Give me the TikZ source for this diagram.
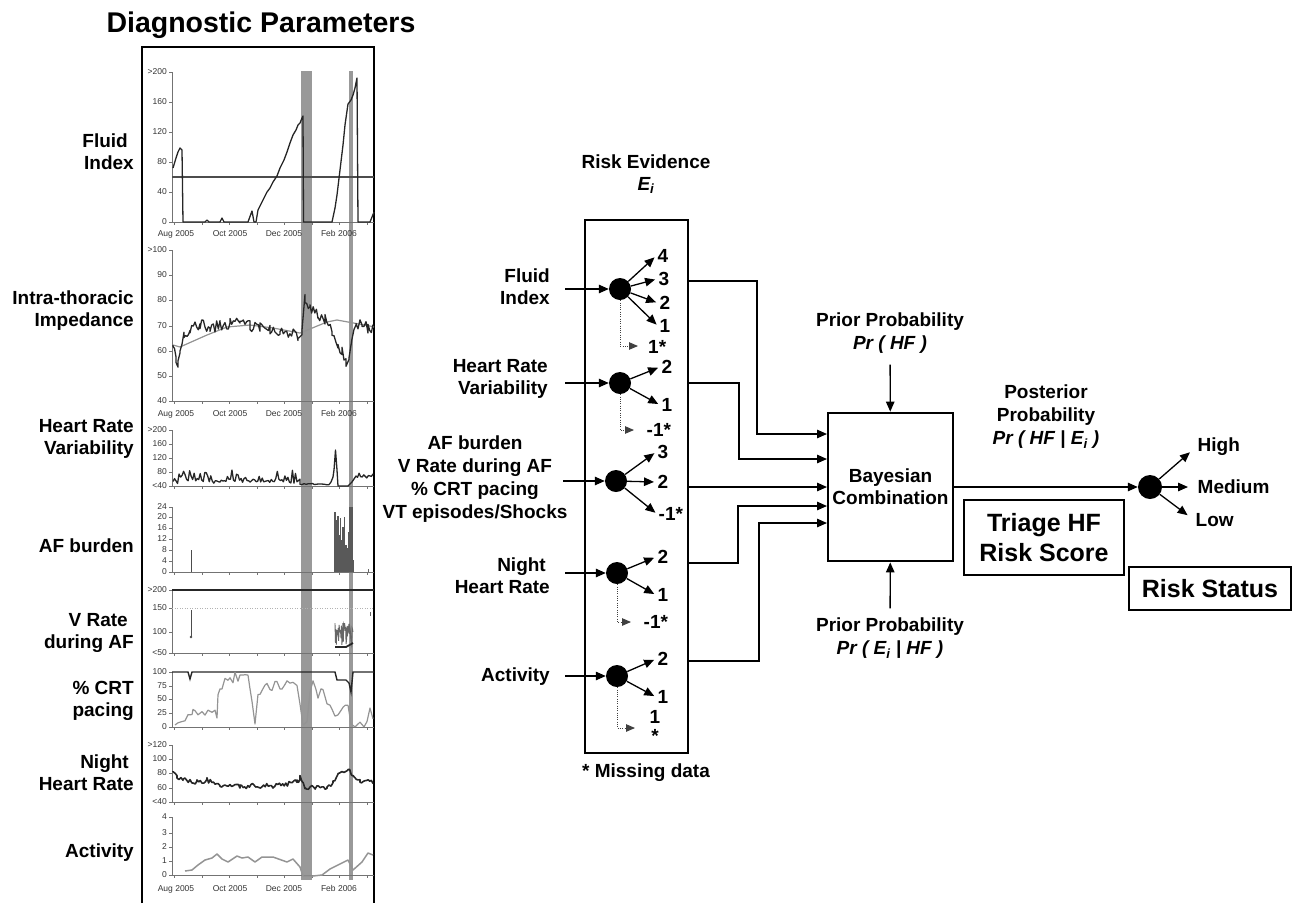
\documentclass[tikz,border=0pt]{standalone}
\usepackage{fontspec}
\setmainfont{Liberation Sans}
\usetikzlibrary{arrows.meta}
\newcommand\labfont{\fontsize{19}{22}\selectfont\bfseries}
\newcommand\bigfont{\fontsize{25}{30}\selectfont\bfseries}
\begin{document}
\begin{tikzpicture}[x=1pt,y=-1pt,
  lab/.style={font=\labfont, align=center, inner sep=1pt},
  arr/.style={line width=1.3pt, -{Triangle[length=10pt,width=8.5pt]}},
  dotarr/.style={line width=1pt, black!75, dash pattern=on 1pt off 1.3pt, -{Triangle[length=9pt,width=7.5pt]}},
  ball/.style={circle, fill=black, minimum size=22pt, inner sep=0pt},
  olab/.style={font=\labfont, anchor=west, inner sep=1.5pt},
  tk/.style={font=\fontsize{8.5}{9}\selectfont, text=black!80, inner sep=1pt},
  axl/.style={draw=black!55, line width=0.7pt},
  crv/.style={draw=black!85, line width=1.3pt, line join=round},
  gcrv/.style={draw=black!42, line width=1.2pt, line join=round},
]
\pgfmathsetseed{7}
\useasboundingbox (0,0) rectangle (1293,903);

% ---------------- left panel ----------------
\node[font=\fontsize{28.5}{32}\selectfont\bfseries, inner sep=0pt] (title) at (261,25) {Diagnostic Parameters};
\draw[line width=1.3pt] (142,903) -- (142,47) -- (374,47) -- (374,903);

% gray event bars
\fill[black!40] (301,71) rectangle (312,880);
\fill[black!40] (349,71) rectangle (353,880);

% axes
\foreach \t/\b in {72/222, 250/401, 430/486, 507/572, 590/653, 672/727, 745/802, 817/875} {
  \draw[axl] (172,\t) -- (172,\b) -- (374,\b);
  \foreach \m in {174,202,229,257,284,312,339,367} \draw[axl] (\m,\b) -- (\m,\b+3);
}
% y tick labels
\foreach \v/\l in {72/{>200},102/160,132/120,162/80,192/40,222/0,
                   250/{>100},275/90,300/80,326/70,351/60,376/50,401/40,
                   430/{>200},444/160,458/120,472/80,486/{<40},
                   507/24,517/20,528/16,539/12,550/8,561/4,572/0,
                   590/{>200},608/150,632/100,653/{<50},
                   672/100,686/75,699/50,713/25,727/0,
                   745/{>120},759/100,773/80,788/60,802/{<40},
                   817/4,833/3,847/2,861/1,875/0} {
  \draw[axl] (169,\v) -- (172,\v);
  \node[tk, anchor=east] at (168,\v) {\l};
}
% date labels
\foreach \dy in {236,416,891} {
  \node[tk, anchor=base] at (176,\dy) {Aug 2005};
  \node[tk, anchor=base] at (230,\dy) {Oct 2005};
  \node[tk, anchor=base] at (284,\dy) {Dec 2005};
  \node[tk, anchor=base] at (339,\dy) {Feb 2006};
}

% Fluid index
\draw[black!70, line width=1.3pt] (172,177) -- (374,177);
\draw[crv] (173,168) -- (176,158) -- (178,152) -- (180,148) -- (182,150) -- (183,222) -- (205,222) -- (207,220) -- (209,222) -- (220,222) -- (222,218) -- (224,222) -- (248,222) -- (252,211) -- (254,222) -- (256,222) -- (258,210) -- (262,202) -- (267,192) -- (270,188) -- (273,182) -- (277,176) -- (280,168) -- (284,160) -- (287,152) -- (290,143) -- (293,135) -- (296,130) -- (298,125) -- (300,123) -- (302,118) -- (303,116) -- (303.5,222) -- (332,222) -- (335,208) -- (337,195) -- (340,170) -- (343,145) -- (345,125) -- (348,104) -- (351,100) -- (353,95) -- (355,88) -- (357,78) -- (358,222) -- (370,222) -- (374,212);

% Intra-thoracic impedance
\draw[gcrv] (173,345) -- (180,347) -- (207,335) -- (227,327) -- (250,325) -- (273,328) -- (300,333) -- (327,322) -- (337,320) -- (370,326) -- (374,327);
\draw[crv] (173,345) \foreach \xa/\ya/\xb/\yb/\n in {173/345/176/357/3, 176/357/178/363/2, 178/363/180/350/2, 180/350/184/336/3, 184/336/190/328/5, 190/328/200/324/7, 200/324/210/327/7, 210/327/220/326/7, 220/326/230/323/7, 230/323/240/322/7, 240/322/250/326/7, 250/326/260/328/7, 260/328/270/329/7, 270/329/280/331/7, 280/331/290/333/7, 290/333/298/336/6, 298/336/302/330/3, 302/330/305/298/2, 305/298/310/306/4, 310/306/318/317/6, 318/317/325/320/5, 325/320/332/330/5, 332/330/338/346/4, 338/346/342/352/3, 342/352/346/362/3, 346/362/349/354/2, 349/354/352/340/2, 352/340/356/325/3, 356/325/362/322/4, 362/322/368/328/4, 368/328/373/330/4} { -- plot[domain=\xa:\xb, samples=\n] (\x, {\ya+(\yb-\ya)*(\x-\xa)/(\xb-\xa)+5.5*rand}) };

% Heart rate variability
\draw[crv] plot[domain=173:300, samples=85] (\x, {484-6*rnd-12*pow(rnd,4)}) -- (300,484) -- plot[domain=300:329, samples=15] (\x, {485-1.5*rnd}) -- (331,482) -- (333,477) -- (334,470) -- (335.5,450) -- (337,470) -- (338,486) -- (348,486) -- (352,482) -- (356,476) -- plot[domain=356:373, samples=12] (\x, {478-5*rnd});

% AF burden
\draw[black!70, line width=1pt] (191,572) -- (191,550);
\foreach \bx/\by in {335/512, 336.5/520, 338/516, 339/535, 340.5/518, 342/540, 343/527, 344.5/517, 346/545, 347/560, 348/548, 349/532, 350/507, 351/507, 352/507, 353/560}
  \fill[black!65] (\bx-0.7,572) rectangle (\bx+0.7,\by);
\draw[black!60, line width=0.8pt] (368,572) -- (368,569);

% V rate during AF
\draw[black!85, line width=1.8pt] (172,590) -- (374,590);
\draw[black!30, line width=0.8pt, dash pattern=on 1pt off 1.5pt] (172,608) -- (374,608);
\draw[black!70, line width=1pt] (191,610) -- (191,637);
\fill[black!70] (191,637) circle (1.3);
\draw[black!60, line width=0.9pt] plot[domain=335:353, samples=40] (\x, {645-22*rnd});
\draw[black!85, line width=1.8pt] (335,647) -- (346,647) -- (353,643);
\draw[black!60, line width=0.8pt] (370,612) -- (370,616);

% % CRT pacing
\draw[black!85, line width=1.4pt] (172,672) -- (188,672) -- (190,679) -- (192,672) -- (335,672) -- (337,680) -- (346,680) -- (349,683) -- (351,692) -- (353,672) -- (374,672);
\draw[gcrv] (175,725) \foreach \px/\py in {178/723, 182/720, 185/722, 188/717, 192/713, 193/708, 195/710, 198/713, 202/712, 205/713, 208/713, 212/715, 215/712, 217/720, 218/693, 220/690, 222/687, 225/680, 228/682, 230/678, 233/681, 235/675, 238/679, 240/677, 243/675, 245/673, 248/678, 250/690, 252/700, 255/723, 258/697, 260/692, 263/687, 265/688, 267/683, 270/690, 272/690, 275/682, 277/680, 280/686, 282/690, 285/683, 287/680, 290/682, 293/683, 297/687, 300/703, 303/725, 307/720, 310/690, 313/680, 316/690, 318/697, 321/690, 323/687, 325/697, 327/703, 330/708, 332/710, 335/718, 338/713, 340/713, 343/710, 345/708, 348/705, 351/727, 355/725, 360/723, 364/725, 367/720, 370/710, 373/717} { -- (\px, {\py+3*rand}) };

% Night heart rate
\draw[crv, line width=1.6pt] (173,771) \foreach \xa/\ya/\xb/\yb/\n in {173/771/177/777/3, 177/777/183/780/4, 183/780/197/782/9, 197/782/207/780/7, 207/780/220/785/9, 220/785/240/786/13, 240/786/273/786/22, 273/786/297/782/16, 297/782/300/778/3, 300/778/305/787/4, 305/787/327/787/14, 327/787/333/783/4, 333/783/340/773/5, 340/773/348/769/5, 348/769/353/775/4, 353/775/360/780/5, 360/780/373/783/9} { -- plot[domain=\xa:\xb, samples=\n] (\x, {\ya+(\yb-\ya)*(\x-\xa)/(\xb-\xa)+2.5*rand}) };

% Activity
\draw[gcrv, line width=1.5pt] (185,871) -- (192,870) -- (198,865) -- (205,860) -- (212,858) -- (217,854) -- (222,859) -- (228,862) -- (237,856) -- (242,858) -- (248,857) -- (255,862) -- (262,857) -- (273,857) -- (287,862) -- (293,859) -- (300,867) -- (303,876) -- (313,876) -- (322,875) -- (330,869) -- (348,860) -- (353,870) -- (362,862) -- (368,853) -- (373,855);

% left labels
\node[lab, align=right, anchor=east] (lfi) at (135,152) {Fluid\hspace*{6pt}\\Index};
\node[lab, align=right, anchor=east] (lit) at (135,311) {Intra-thoracic\\Impedance};
\node[lab, align=right, anchor=east] (lhr) at (135,439) {Heart Rate\\Variability};
\node[lab, align=right, anchor=east] (laf) at (135,546) {AF burden};
\node[lab, align=right, anchor=east] (lvr) at (135,633) {V Rate\hspace*{6pt}\\during AF};
\node[lab, align=right, anchor=east] (lcr) at (135,701) {\% CRT\\pacing};
\node[lab, align=right, anchor=east] (lnh) at (135,772.5) {Night\hspace*{5pt}\\Heart Rate};
\node[lab, align=right, anchor=east] (lac) at (135,853) {Activity};

% ---------------- risk evidence ----------------
\node[lab] (re) at (646,174) {Risk Evidence\\\itshape E\textsubscript{i}};
\node[draw, line width=2.4pt, minimum width=103pt, minimum height=533pt, inner sep=0pt] (rebox) at (636.5,486.5) {};
\node[lab] (md) at (646,773) {* Missing data};

\node[lab, align=right, anchor=east] (in1) at (551,287) {Fluid\\Index};
\node[lab, align=right, anchor=east] (in2) at (549,379) {Heart Rate\\Variability};
\node[lab, font=\fontsize{19}{23}\selectfont\bfseries] (in3) at (475,479) {AF burden\\V Rate during AF\\\% CRT pacing\\VT episodes/Shocks};
\node[lab, align=right, anchor=east] (in4) at (551,576) {Night\hspace*{4pt}\\Heart Rate};
\node[lab, align=right, anchor=east] (in5) at (551,677) {Activity};

\node[ball] (c1) at (620,289) {};
\node[ball] (c2) at (620,383) {};
\node[ball] (c3) at (616,481) {};
\node[ball] (c4) at (617,573) {};
\node[ball] (c5) at (617,676) {};

\coordinate (s1) at (565,289);
\coordinate (s2) at (565,383);
\coordinate (s3) at (563,481);
\coordinate (s4) at (565,573);
\coordinate (s5) at (565,676);
\foreach \i in {1,...,5} \draw[arr] (s\i) -- (c\i);

% outcomes
\node[olab] (o11) at (656,256) {4};
\node[olab] (o12) at (657,279) {3};
\node[olab] (o13) at (658,303) {2};
\node[olab] (o14) at (658,326) {1};
\node[olab] (o21) at (660,367) {2};
\node[olab] (o22) at (660,405) {1};
\node[olab] (o31) at (656,452) {3};
\node[olab] (o32) at (656,482) {2};
\node[olab] (o33) at (657,514) {-1*};
\node[olab] (o41) at (656,557) {2};
\node[olab] (o42) at (656,595) {1};
\node[olab] (o51) at (656,659) {2};
\node[olab] (o52) at (656,697) {1};
\foreach \a/\b in {c1/o11,c1/o12,c1/o13,c1/o14,c2/o21,c2/o22,c3/o31,c3/o32,c3/o33,c4/o41,c4/o42,c5/o51,c5/o52}
  \draw[arr, shorten >=2pt] (\a) -- (\b.west);

% missing-data branches
\coordinate (d1) at (638,346);
\coordinate (d2) at (634,430);
\coordinate (d4) at (631,622);
\coordinate (d5) at (635,728);
\node[olab, inner sep=0pt] (m1) at (648,347) {1*};
\node[olab] (m2) at (645,430) {-1*};
\node[olab] (m4) at (642,622) {-1*};
\node[lab, font=\fontsize{19}{19}\selectfont\bfseries] (m5) at (655,726) {1\\*};
\draw[dotarr] (c1.south) |- (d1);
\draw[dotarr] (c2.south) |- (d2);
\draw[dotarr] (c4.south) |- (d4);
\draw[dotarr] (c5.south) |- (d5);

% ---------------- Bayesian combination ----------------
\node[draw, line width=2.8pt, minimum width=125pt, minimum height=148pt, lab] (bay) at (890.5,487) {Bayesian\\Combination};
\coordinate (r1) at (688,281);
\coordinate (r2) at (688,383);
\coordinate (r3) at (688,487);
\coordinate (r4) at (688,563);
\coordinate (r5) at (688,661);
\coordinate (b1) at (827,434);
\coordinate (b2) at (827,459);
\coordinate (b3) at (827,487);
\coordinate (b4) at (827,506);
\coordinate (b5) at (827,523);
\draw[arr] (r1) -- ++(69,0) |- (b1);
\draw[arr] (r2) -- ++(51,0) |- (b2);
\draw[arr] (r3) -- (b3);
\draw[arr] (r4) -- ++(50,0) |- (b4);
\draw[arr] (r5) -- ++(71,0) |- (b5);

\node[lab, font=\fontsize{19}{23}\selectfont\bfseries] (pt) at (890,333) {Prior Probability\\\itshape Pr ( HF )};
\node[lab, font=\fontsize{19}{23}\selectfont\bfseries] (pb) at (890,638) {Prior Probability\\\itshape Pr ( E\textsubscript{i} | HF )};
\draw[arr, shorten <=10pt] (pt) -- (bay);
\draw[arr, shorten <=8pt] (pb) -- (bay);

% ---------------- output ----------------
\node[lab, font=\fontsize{19}{23}\selectfont\bfseries] (post) at (1046,417) {Posterior\\Probability\\\itshape Pr ( HF | E\textsubscript{i} )};
\node[ball, minimum size=24pt] (c6) at (1150,487) {};
\draw[arr] (bay) -- (c6);
\node[olab] (hi) at (1196,447) {High};
\node[olab] (me) at (1196,487) {Medium};
\node[olab] (lo) at (1194,520) {Low};
\foreach \t in {hi,me,lo} \draw[arr, shorten >=8pt] (c6) -- (\t.west);

\node[draw, line width=2.4pt, minimum width=160pt, minimum height=75pt, inner sep=0pt, font=\bigfont, align=center] (tri) at (1044,537.5) {Triage HF\\Risk Score};
\node[draw, line width=2.4pt, minimum width=162pt, minimum height=43pt, inner sep=0pt, font=\bigfont] (rs) at (1210,588.5) {Risk Status};
\end{tikzpicture}
\end{document}
